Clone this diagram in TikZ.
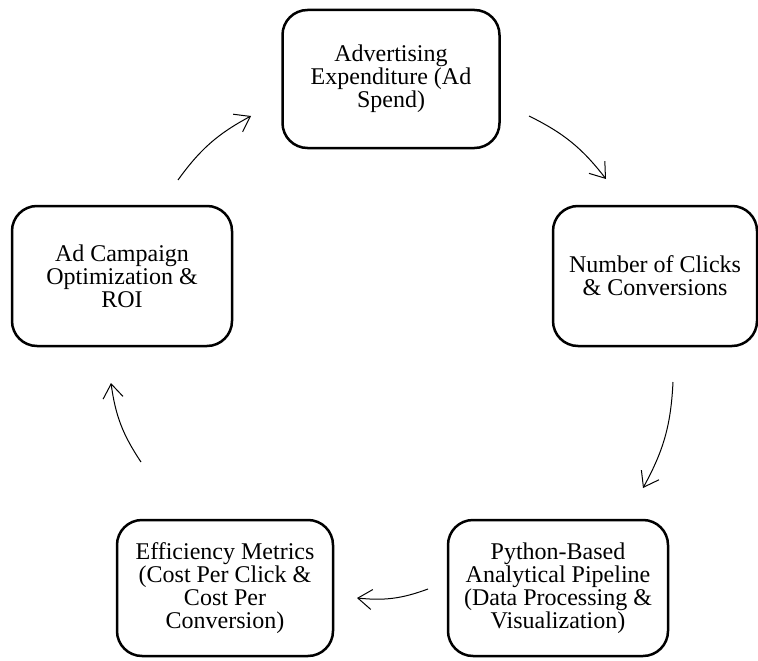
\documentclass[tikz,border=0pt]{standalone}
\usepackage{fontspec}
\setmainfont{Liberation Serif}
\usetikzlibrary{arrows.meta}
\begin{document}
\begin{tikzpicture}[x=1pt,y=-1pt,
  box/.style={draw=black, line width=2.5pt, rounded corners=25pt, fill=white,
    align=center, inner sep=0pt, font=\fontsize{24}{23}\selectfont},
  flow/.style={-{Straight Barb[length=14pt,width=20pt,line width=1pt]}, line width=1pt, bend left=13}]
\useasboundingbox (0,0) rectangle (758,661);
\node[box, minimum width=217pt, minimum height=138pt] (spend) at (391,79) {Advertising\\Expenditure (Ad\\Spend)};
\node[box, minimum width=204pt, minimum height=140pt] (clicks) at (655,276) {Number of Clicks\\\& Conversions};
\node[box, minimum width=220pt, minimum height=136pt] (python) at (558,588) {Python-Based\\Analytical Pipeline\\(Data Processing \&\\Visualization)};
\node[box, minimum width=216pt, minimum height=136pt] (metrics) at (225,588) {Efficiency Metrics\\(Cost Per Click \&\\Cost Per\\Conversion)};
\node[box, minimum width=220pt, minimum height=140pt] (roi) at (122,276) {Ad Campaign\\Optimization \&\\ROI};
\coordinate (a1s) at (178,180); \coordinate (a1e) at (251,116);
\coordinate (a2s) at (529,116); \coordinate (a2e) at (606,179);
\coordinate (a3s) at (673,382); \coordinate (a3e) at (643,488);
\coordinate (a4s) at (428,589); \coordinate (a4e) at (357,598);
\coordinate (a5s) at (141,462); \coordinate (a5e) at (111,383);
\draw[flow] (a1s) to (a1e);
\draw[flow] (a2s) to (a2e);
\draw[flow] (a3s) to (a3e);
\draw[flow] (a4s) to (a4e);
\draw[flow] (a5s) to (a5e);
\end{tikzpicture}
\end{document}
